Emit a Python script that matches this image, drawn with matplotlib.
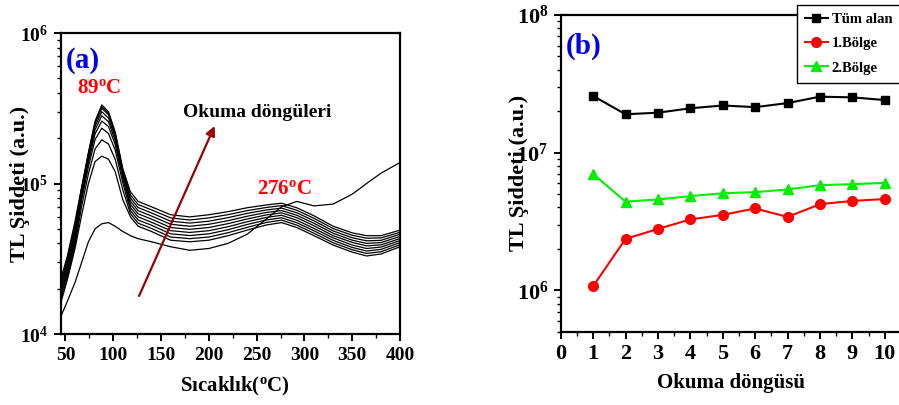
import matplotlib
matplotlib.use('Agg')
import matplotlib.pyplot as plt
from matplotlib.ticker import MultipleLocator, LogLocator, FixedLocator, FixedFormatter, NullFormatter

# Fonts: bold Times-like serif everywhere, math in the same font
plt.rcParams['font.family'] = ['Liberation Serif', 'DejaVu Serif']
plt.rcParams['font.weight'] = 'bold'
plt.rcParams['mathtext.fontset'] = 'custom'
plt.rcParams['mathtext.rm'] = 'Liberation Serif:bold'
plt.rcParams['mathtext.bf'] = 'Liberation Serif:bold'
plt.rcParams['mathtext.it'] = 'Liberation Serif:bold'
plt.rcParams['mathtext.default'] = 'bf'

# ---- panel (a): TL glow curves, one per reading cycle ----
temperature = [45, 52, 60, 67, 74, 81, 88, 95, 102, 110, 118, 126, 140, 160, 180,
               200, 220, 240, 260, 276, 292, 310, 330, 350, 365, 380, 400]

cycle_1 = [1.3e4, 1.65e4, 2.2e4, 3.0e4, 4.1e4, 5.0e4, 5.4e4, 5.5e4, 5.2e4, 4.8e4, 4.5e4, 4.3e4, 4.1e4, 3.8e4,
           3.6e4, 3.7e4, 4.0e4, 4.6e4, 5.8e4, 7.0e4, 7.6e4, 7.1e4, 7.3e4, 8.5e4, 1.0e5, 1.17e5, 1.38e5]
cycle_2 = [1.6e4, 2.3e4, 3.7e4, 6.2e4, 1.0e5, 1.4e5, 1.52e5, 1.45e5, 1.2e5, 7.8e4, 6.0e4, 5.2e4, 4.8e4, 4.2e4,
           4.1e4, 4.2e4, 4.5e4, 4.9e4, 5.3e4, 5.5e4, 5.1e4, 4.5e4, 3.9e4, 3.5e4, 3.3e4, 3.4e4, 3.8e4]
cycle_3 = [1.67e4, 2.41e4, 3.9e4, 7.1e4, 1.16e5, 1.70e5, 1.95e5, 1.83e5, 1.45e5, 9.06e4, 6.3e4, 5.45e4, 5.03e4, 4.41e4,
           4.3e4, 4.41e4, 4.71e4, 5.11e4, 5.51e4, 5.71e4, 5.29e4, 4.67e4, 4.04e4, 3.63e4, 3.43e4, 3.52e4, 3.92e4]
cycle_4 = [1.75e4, 2.52e4, 4.1e4, 7.8e4, 1.29e5, 1.96e5, 2.33e5, 2.15e5, 1.67e5, 1.01e5, 6.6e4, 5.72e4, 5.28e4, 4.63e4,
           4.51e4, 4.63e4, 4.93e4, 5.34e4, 5.72e4, 5.92e4, 5.49e4, 4.85e4, 4.19e4, 3.76e4, 3.56e4, 3.65e4, 4.05e4]
cycle_5 = [1.83e4, 2.64e4, 4.3e4, 8.3e4, 1.38e5, 2.14e5, 2.6e5, 2.39e5, 1.82e5, 1.08e5, 6.92e4, 6.0e4, 5.53e4, 4.86e4,
           4.73e4, 4.86e4, 5.16e4, 5.57e4, 5.95e4, 6.15e4, 5.7e4, 5.03e4, 4.35e4, 3.9e4, 3.7e4, 3.78e4, 4.18e4]
cycle_6 = [1.92e4, 2.76e4, 4.55e4, 8.7e4, 1.45e5, 2.28e5, 2.82e5, 2.57e5, 1.93e5, 1.13e5, 7.26e4, 6.29e4, 5.8e4, 5.1e4,
           4.96e4, 5.1e4, 5.41e4, 5.81e4, 6.18e4, 6.38e4, 5.93e4, 5.24e4, 4.5e4, 4.06e4, 3.85e4, 3.91e4, 4.31e4]
cycle_7 = [2.0e4, 2.88e4, 4.77e4, 9.0e4, 1.5e5, 2.4e5, 3.0e5, 2.72e5, 2.03e5, 1.17e5, 7.62e4, 6.6e4, 6.08e4, 5.36e4,
           5.2e4, 5.36e4, 5.66e4, 6.06e4, 6.42e4, 6.61e4, 6.15e4, 5.44e4, 4.67e4, 4.2e4, 4.0e4, 4.05e4, 4.45e4]
cycle_8 = [2.1e4, 3.02e4, 5.0e4, 9.25e4, 1.55e5, 2.5e5, 3.16e5, 2.86e5, 2.11e5, 1.21e5, 7.99e4, 6.92e4, 6.37e4, 5.62e4,
           5.46e4, 5.62e4, 5.93e4, 6.33e4, 6.67e4, 6.86e4, 6.39e4, 5.65e4, 4.84e4, 4.36e4, 4.16e4, 4.19e4, 4.6e4]
cycle_9 = [2.2e4, 3.16e4, 5.3e4, 9.4e4, 1.58e5, 2.55e5, 3.25e5, 2.93e5, 2.16e5, 1.23e5, 8.38e4, 7.25e4, 6.68e4, 5.91e4,
           5.72e4, 5.91e4, 6.21e4, 6.6e4, 6.93e4, 7.13e4, 6.64e4, 5.87e4, 5.02e4, 4.53e4, 4.33e4, 4.35e4, 4.74e4]
cycle_10 = [2.3e4, 3.3e4, 5.6e4, 9.5e4, 1.6e5, 2.6e5, 3.33e5, 3.0e5, 2.2e5, 1.25e5, 8.8e4, 7.6e4, 7.0e4, 6.2e4,
            6.0e4, 6.2e4, 6.5e4, 6.9e4, 7.2e4, 7.4e4, 6.9e4, 6.1e4, 5.2e4, 4.7e4, 4.5e4, 4.5e4, 4.9e4]

# ---- panel (b): integrated intensity per reading cycle ----
reading_cycle = [1, 2, 3, 4, 5, 6, 7, 8, 9, 10]
whole_area = [2.58e7, 1.9e7, 1.95e7, 2.1e7, 2.2e7, 2.14e7, 2.29e7, 2.55e7, 2.52e7, 2.41e7]
region_1 = [1.07e6, 2.36e6, 2.79e6, 3.27e6, 3.53e6, 3.93e6, 3.41e6, 4.22e6, 4.46e6, 4.6e6]
region_2 = [7.0e6, 4.4e6, 4.57e6, 4.83e6, 5.07e6, 5.16e6, 5.4e6, 5.8e6, 5.9e6, 6.03e6]
series_names = ['Tüm alan', '1.Bölge', '2.Bölge']


def style_axes(ax, tick_size):
    '''Thick frame, outward ticks only on bottom and left.'''
    for spine in ax.spines.values():
        spine.set_linewidth(1.6)
    ax.tick_params(which='major', direction='out', length=5, width=1.4,
                   labelsize=tick_size, top=False, right=False, pad=4)
    ax.tick_params(which='minor', direction='out', length=3, width=1.0,
                   top=False, right=False)


fig = plt.figure(figsize=(8.99, 4.05), dpi=100)

# Panel (a)
ax1 = fig.add_axes([0.0675, 0.1753, 0.3775, 0.7432])
glow_curves = [cycle_1, cycle_2, cycle_3, cycle_4, cycle_5, cycle_6, cycle_7, cycle_8, cycle_9, cycle_10]
for curve in glow_curves:
    ax1.plot(temperature, curve, color='black', lw=0.9)
ax1.set_yscale('log')
ax1.set_xlim(45, 400)
ax1.set_ylim(1e4, 1e6)
ax1.xaxis.set_major_locator(MultipleLocator(50))
ax1.xaxis.set_minor_locator(MultipleLocator(25))
ax1.yaxis.set_major_locator(FixedLocator([1e4, 1e5, 1e6]))
ax1.yaxis.set_major_formatter(FixedFormatter([r'$10^{4}$', r'$10^{5}$', r'$10^{6}$']))
ax1.yaxis.set_minor_locator(LogLocator(base=10, subs=range(2, 10)))
ax1.yaxis.set_minor_formatter(NullFormatter())
style_axes(ax1, 14)

ax1.set_xlabel(r'Sıcaklık($^{o}$C)', fontsize=15, fontweight='bold')
ax1.set_ylabel('TL Şiddeti (a.u.)', fontsize=16, fontweight='bold')
ax1.xaxis.set_label_coords(0.514, -0.176)
ax1.xaxis.label.set_verticalalignment('center')
ax1.yaxis.set_label_coords(-0.12, 0.5)
ax1.yaxis.label.set_verticalalignment('center')

ax1.text(0.066, 0.91, '(a)', transform=ax1.transAxes, color='#0000ee',
         fontsize=21, fontweight='bold', ha='center', va='center')
ax1.text(0.113, 0.817, r'89$^{o}$C', transform=ax1.transAxes, color='red',
         fontsize=15, fontweight='bold', ha='center', va='center')
ax1.text(0.658, 0.482, r'276$^{o}$C', transform=ax1.transAxes, color='red',
         fontsize=15, fontweight='bold', ha='center', va='center')
ax1.text(0.578, 0.736, 'Okuma döngüleri', transform=ax1.transAxes, color='black',
         fontsize=14, fontweight='bold', ha='center', va='center')
ax1.annotate('', xy=(206, 2.41e5), xytext=(127, 1.79e4),
             arrowprops=dict(arrowstyle='-|>', color='#990000', lw=1.6,
                             mutation_scale=14, shrinkA=0, shrinkB=0))

# Panel (b)
ax2 = fig.add_axes([0.6237, 0.181, 0.3796, 0.782])
ax2.plot(reading_cycle, whole_area, color='black', marker='s', ms=6, lw=1.5,
         label=series_names[0])
ax2.plot(reading_cycle, region_1, color='red', marker='o', ms=7, lw=1.5,
         label=series_names[1])
ax2.plot(reading_cycle, region_2, color='#00ee00', marker='^', ms=7.5, lw=1.5,
         label=series_names[2])
ax2.set_yscale('log')
ax2.set_xlim(0, 10.53)
ax2.set_ylim(5e5, 1e8)
ax2.xaxis.set_major_locator(MultipleLocator(1))
ax2.xaxis.set_minor_locator(MultipleLocator(0.5))
ax2.yaxis.set_major_locator(FixedLocator([1e6, 1e7, 1e8]))
ax2.yaxis.set_major_formatter(FixedFormatter([r'$10^{6}$', r'$10^{7}$', r'$10^{8}$']))
ax2.yaxis.set_minor_locator(LogLocator(base=10, subs=range(2, 10)))
ax2.yaxis.set_minor_formatter(NullFormatter())
style_axes(ax2, 16)

ax2.set_xlabel('Okuma döngüsü', fontsize=15, fontweight='bold')
ax2.set_ylabel('TL Şiddeti (a.u.)', fontsize=16, fontweight='bold')
ax2.xaxis.set_label_coords(0.499, -0.162)
ax2.xaxis.label.set_verticalalignment('center')
ax2.yaxis.set_label_coords(-0.122, 0.5)
ax2.yaxis.label.set_verticalalignment('center')

ax2.text(0.068, 0.902, '(b)', transform=ax2.transAxes, color='#0000ee',
         fontsize=21, fontweight='bold', ha='center', va='center')

# Legend box sits over the top spine and runs off the right edge
legend = ax2.legend(loc='upper left', bbox_to_anchor=(796.7 / 899, 1 - 5 / 405),
                    bbox_transform=fig.transFigure, borderaxespad=0,
                    fontsize=10.5, handlelength=1.6, handletextpad=0.25,
                    borderpad=0.55, labelspacing=0.75, fancybox=False,
                    framealpha=1, edgecolor='black')
legend.get_frame().set_linewidth(1.0)

fig.savefig('out.png', dpi=100)
